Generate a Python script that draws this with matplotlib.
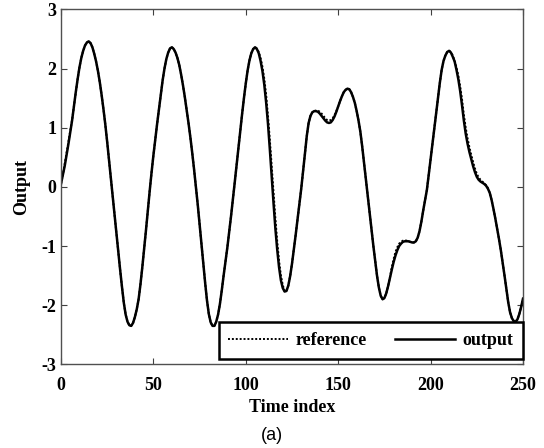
import matplotlib
matplotlib.use("Agg")
import matplotlib.pyplot as plt

t = list(range(0, 251))
y_output = [
    0.05, 0.2, 0.35, 0.53, 0.72, 0.92, 1.12, 1.36, 1.6, 1.82,
    2.02, 2.18, 2.3, 2.39, 2.44, 2.46, 2.43, 2.36, 2.25, 2.12,
    1.96, 1.77, 1.55, 1.31, 1.05, 0.76, 0.45, 0.14, -0.18, -0.49,
    -0.8, -1.1, -1.4, -1.69, -1.96, -2.16, -2.28, -2.34, -2.35, -2.3,
    -2.2, -2.07, -1.9, -1.65, -1.36, -1.05, -0.73, -0.4, -0.07, 0.24,
    0.53, 0.8, 1.06, 1.31, 1.56, 1.8, 2.0, 2.16, 2.27, 2.34,
    2.36, 2.33, 2.27, 2.18, 2.06, 1.9, 1.72, 1.52, 1.3, 1.08,
    0.84, 0.58, 0.3, 0.0, -0.3, -0.63, -0.97, -1.3, -1.62, -1.92,
    -2.15, -2.29, -2.35, -2.35, -2.28, -2.16, -1.98, -1.75, -1.5, -1.27,
    -1.03, -0.77, -0.5, -0.22, 0.07, 0.36, 0.65, 0.94, 1.23, 1.5,
    1.75, 1.97, 2.14, 2.26, 2.33, 2.36, 2.33, 2.26, 2.13, 1.96,
    1.73, 1.43, 1.07, 0.64, 0.18, -0.27, -0.7, -1.06, -1.36, -1.58,
    -1.71, -1.77, -1.76, -1.67, -1.51, -1.3, -1.06, -0.81, -0.55, -0.3,
    -0.03, 0.26, 0.56, 0.86, 1.08, 1.2, 1.26, 1.28, 1.28, 1.27,
    1.24, 1.2, 1.16, 1.12, 1.09, 1.08, 1.09, 1.13, 1.19, 1.27,
    1.36, 1.45, 1.53, 1.6, 1.64, 1.66, 1.65, 1.6, 1.52, 1.42,
    1.28, 1.12, 0.93, 0.68, 0.4, 0.12, -0.16, -0.44, -0.72, -0.99,
    -1.25, -1.5, -1.7, -1.84, -1.9, -1.88, -1.8, -1.68, -1.54, -1.4,
    -1.27, -1.16, -1.07, -1.0, -0.96, -0.93, -0.92, -0.92, -0.92, -0.93,
    -0.94, -0.94, -0.92, -0.86, -0.75, -0.59, -0.4, -0.23, -0.05, 0.21,
    0.48, 0.74, 1.0, 1.25, 1.5, 1.76, 1.98, 2.13, 2.22, 2.28,
    2.3, 2.27, 2.2, 2.12, 1.98, 1.82, 1.62, 1.38, 1.12, 0.9,
    0.73, 0.59, 0.47, 0.35, 0.25, 0.17, 0.12, 0.09, 0.07, 0.05,
    0.02, -0.03, -0.1, -0.22, -0.37, -0.53, -0.7, -0.88, -1.07, -1.28,
    -1.5, -1.73, -1.95, -2.12, -2.22, -2.27, -2.28, -2.24, -2.15, -2.03,
    -1.89]
y_reference = [
    0.05, 0.2, 0.38, 0.57, 0.76, 0.94, 1.13, 1.36, 1.6, 1.82,
    2.02, 2.18, 2.3, 2.39, 2.44, 2.46, 2.43, 2.36, 2.25, 2.12,
    1.96, 1.77, 1.55, 1.31, 1.05, 0.76, 0.45, 0.14, -0.18, -0.49,
    -0.8, -1.1, -1.4, -1.69, -1.96, -2.16, -2.28, -2.34, -2.35, -2.3,
    -2.2, -2.07, -1.9, -1.65, -1.36, -1.05, -0.73, -0.4, -0.07, 0.24,
    0.53, 0.8, 1.06, 1.31, 1.56, 1.8, 2.0, 2.16, 2.27, 2.34,
    2.36, 2.33, 2.27, 2.18, 2.06, 1.9, 1.72, 1.52, 1.3, 1.08,
    0.84, 0.58, 0.3, 0.0, -0.3, -0.63, -0.97, -1.3, -1.62, -1.92,
    -2.15, -2.29, -2.35, -2.35, -2.28, -2.16, -1.98, -1.75, -1.5, -1.27,
    -1.03, -0.77, -0.5, -0.22, 0.07, 0.36, 0.65, 0.94, 1.23, 1.5,
    1.75, 1.97, 2.14, 2.26, 2.33, 2.36, 2.34, 2.28, 2.18, 2.03,
    1.83, 1.56, 1.2, 0.8, 0.35, -0.1, -0.53, -0.92, -1.25, -1.5,
    -1.66, -1.76, -1.76, -1.67, -1.51, -1.3, -1.06, -0.81, -0.55, -0.3,
    -0.03, 0.26, 0.56, 0.86, 1.08, 1.2, 1.26, 1.28, 1.29, 1.29,
    1.27, 1.24, 1.2, 1.16, 1.13, 1.12, 1.13, 1.16, 1.21, 1.28,
    1.36, 1.45, 1.53, 1.6, 1.64, 1.66, 1.65, 1.6, 1.52, 1.42,
    1.28, 1.12, 0.93, 0.68, 0.4, 0.12, -0.16, -0.44, -0.72, -0.99,
    -1.25, -1.5, -1.7, -1.84, -1.9, -1.88, -1.8, -1.68, -1.53, -1.36,
    -1.22, -1.1, -1.02, -0.96, -0.93, -0.91, -0.9, -0.91, -0.92, -0.93,
    -0.94, -0.94, -0.92, -0.86, -0.75, -0.59, -0.4, -0.23, -0.05, 0.21,
    0.48, 0.74, 1.0, 1.25, 1.5, 1.76, 1.98, 2.13, 2.22, 2.28,
    2.3, 2.28, 2.22, 2.13, 2.02, 1.88, 1.7, 1.48, 1.22, 1.0,
    0.82, 0.67, 0.54, 0.42, 0.31, 0.22, 0.16, 0.12, 0.09, 0.06,
    0.03, -0.02, -0.1, -0.22, -0.37, -0.53, -0.7, -0.88, -1.07, -1.28,
    -1.5, -1.73, -1.95, -2.12, -2.22, -2.27, -2.28, -2.24, -2.15, -2.03,
    -1.89]

x_ticks = [0, 50, 100, 150, 200, 250]
y_ticks = [-3, -2, -1, 0, 1, 2, 3]

serif = ["Liberation Serif", "DejaVu Serif"]

fig = plt.figure(figsize=(5.44, 4.48), dpi=100)
ax = fig.add_axes([0.1121, 0.1868, 0.8493, 0.7922])

ax.plot(t, y_reference, color="black", linestyle=(0, (1, 1)), linewidth=1.4, label="reference")
ax.plot(t, y_output, color="black", linestyle="-", linewidth=1.8, label="output")

ax.set_xlim(0, 250)
ax.set_ylim(-3, 3)
ax.set_xticks(x_ticks)
ax.set_yticks(y_ticks)
ax.set_xticklabels([str(v) for v in x_ticks], fontfamily=serif, fontweight="bold", fontsize=13)
ax.set_yticklabels([str(v) for v in y_ticks], fontfamily=serif, fontweight="bold", fontsize=13)
ax.tick_params(axis="x", pad=9)
ax.tick_params(direction="in", length=4, width=0.8, top=True, right=True, color="#404040")
for s in ax.spines.values():
    s.set_color("#505050")
    s.set_linewidth(1.0)

ax.set_xlabel("Time index", fontfamily=serif, fontweight="bold", fontsize=13, labelpad=4)
ax.set_ylabel("Output", fontfamily=serif, fontweight="bold", fontsize=13, labelpad=8)

leg = ax.legend(loc="lower right", bbox_to_anchor=(1.0, 0.015), ncol=2, frameon=True,
                fancybox=False, edgecolor="black", framealpha=1,
                prop={"family": serif, "weight": "bold", "size": 13},
                handlelength=3.3, columnspacing=1.6, handletextpad=0.4,
                borderpad=0.55, borderaxespad=0)
leg.get_frame().set_linewidth(1.8)

fig.text(0.5, 0.027, "(a)", ha="center", va="center", fontfamily=["Liberation Sans", "DejaVu Sans"], fontsize=13)

fig.savefig("out.png", dpi=100)
